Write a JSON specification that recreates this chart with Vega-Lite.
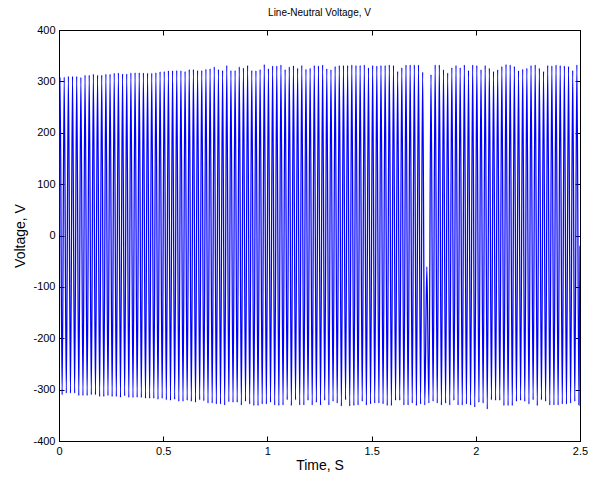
{
  "$schema": "https://vega.github.io/schema/vega-lite/v6.json",
  "width": 521,
  "height": 411,
  "autosize": "none",
  "padding": {"left": 59, "top": 30, "right": 11, "bottom": 36},
  "background": "white",
  "config": {
    "view": {"stroke": "#000", "strokeWidth": 1},
    "font": "Liberation Sans",
    "axis": {
      "grid": false,
      "domainColor": "#000",
      "tickColor": "#000",
      "labelColor": "#000",
      "titleColor": "#000",
      "labelFont": "Liberation Sans",
      "titleFont": "Liberation Sans",
      "labelFontSize": 11,
      "titleFontSize": 14,
      "titleFontWeight": "normal",
      "tickSize": -5,
      "labelFlush": false,
      "labelOverlap": false
    }
  },
  "title": {
    "text": "Line-Neutral Voltage, V",
    "font": "Liberation Sans",
    "fontSize": 10,
    "fontWeight": "normal",
    "color": "#000",
    "anchor": "middle",
    "offset": 6
  },
  "data": {
    "values": [
      {"t": 0, "v": 0},
      {"t": 0.005, "v": 308}, {"t": 0.015, "v": -310},
      {"t": 0.025, "v": 308.5}, {"t": 0.035, "v": -307},
      {"t": 0.045, "v": 310}, {"t": 0.055, "v": -307},
      {"t": 0.065, "v": 310}, {"t": 0.075, "v": -307},
      {"t": 0.085, "v": 310}, {"t": 0.095, "v": -311.5},
      {"t": 0.105, "v": 308}, {"t": 0.115, "v": -311.5},
      {"t": 0.125, "v": 312}, {"t": 0.135, "v": -311.5},
      {"t": 0.145, "v": 312}, {"t": 0.155, "v": -310},
      {"t": 0.165, "v": 314}, {"t": 0.175, "v": -310},
      {"t": 0.185, "v": 312}, {"t": 0.195, "v": -313.5},
      {"t": 0.205, "v": 312}, {"t": 0.215, "v": -313.5},
      {"t": 0.225, "v": 314}, {"t": 0.235, "v": -311.5},
      {"t": 0.245, "v": 314}, {"t": 0.255, "v": -313.5},
      {"t": 0.265, "v": 316}, {"t": 0.275, "v": -313.5},
      {"t": 0.285, "v": 316.5}, {"t": 0.295, "v": -315},
      {"t": 0.305, "v": 314.5}, {"t": 0.315, "v": -312},
      {"t": 0.325, "v": 314.5}, {"t": 0.335, "v": -315},
      {"t": 0.345, "v": 316.5}, {"t": 0.355, "v": -315.5},
      {"t": 0.365, "v": 317}, {"t": 0.375, "v": -315},
      {"t": 0.385, "v": 317}, {"t": 0.395, "v": -315.5},
      {"t": 0.405, "v": 316.5}, {"t": 0.415, "v": -317},
      {"t": 0.425, "v": 316}, {"t": 0.435, "v": -317},
      {"t": 0.445, "v": 316}, {"t": 0.455, "v": -317},
      {"t": 0.465, "v": 317}, {"t": 0.475, "v": -319},
      {"t": 0.485, "v": 319}, {"t": 0.495, "v": -317},
      {"t": 0.505, "v": 319.5}, {"t": 0.515, "v": -320},
      {"t": 0.525, "v": 321}, {"t": 0.535, "v": -321},
      {"t": 0.545, "v": 321}, {"t": 0.555, "v": -319},
      {"t": 0.565, "v": 321.5}, {"t": 0.575, "v": -323},
      {"t": 0.585, "v": 321}, {"t": 0.595, "v": -323},
      {"t": 0.605, "v": 319.5}, {"t": 0.615, "v": -321},
      {"t": 0.625, "v": 323.5}, {"t": 0.635, "v": -323},
      {"t": 0.645, "v": 323.5}, {"t": 0.655, "v": -325},
      {"t": 0.665, "v": 321.5}, {"t": 0.675, "v": -320},
      {"t": 0.685, "v": 321.5}, {"t": 0.695, "v": -322},
      {"t": 0.705, "v": 324}, {"t": 0.715, "v": -326.5},
      {"t": 0.725, "v": 325}, {"t": 0.735, "v": -326.5},
      {"t": 0.745, "v": 328.5}, {"t": 0.755, "v": -328},
      {"t": 0.765, "v": 323.5}, {"t": 0.775, "v": -328},
      {"t": 0.785, "v": 321.5}, {"t": 0.795, "v": -330},
      {"t": 0.805, "v": 331}, {"t": 0.815, "v": -324},
      {"t": 0.825, "v": 321.5}, {"t": 0.835, "v": -325},
      {"t": 0.845, "v": 321.5}, {"t": 0.855, "v": -325},
      {"t": 0.865, "v": 328.5}, {"t": 0.875, "v": -330},
      {"t": 0.885, "v": 326.5}, {"t": 0.895, "v": -323},
      {"t": 0.905, "v": 331}, {"t": 0.915, "v": -328},
      {"t": 0.925, "v": 321.5}, {"t": 0.935, "v": -331},
      {"t": 0.945, "v": 321}, {"t": 0.955, "v": -331},
      {"t": 0.965, "v": 323.5}, {"t": 0.975, "v": -328},
      {"t": 0.985, "v": 333}, {"t": 0.995, "v": -328},
      {"t": 1.005, "v": 325}, {"t": 1.015, "v": -325},
      {"t": 1.025, "v": 330}, {"t": 1.035, "v": -330},
      {"t": 1.045, "v": 330}, {"t": 1.055, "v": -331},
      {"t": 1.065, "v": 332}, {"t": 1.075, "v": -330},
      {"t": 1.085, "v": 323.5}, {"t": 1.095, "v": -320},
      {"t": 1.105, "v": 328.5}, {"t": 1.115, "v": -331},
      {"t": 1.125, "v": 330.5}, {"t": 1.135, "v": -320},
      {"t": 1.145, "v": 326}, {"t": 1.155, "v": -330},
      {"t": 1.165, "v": 331}, {"t": 1.175, "v": -330},
      {"t": 1.185, "v": 324}, {"t": 1.195, "v": -321},
      {"t": 1.205, "v": 326}, {"t": 1.215, "v": -330},
      {"t": 1.225, "v": 331}, {"t": 1.235, "v": -325},
      {"t": 1.245, "v": 330}, {"t": 1.255, "v": -330},
      {"t": 1.265, "v": 332}, {"t": 1.275, "v": -321},
      {"t": 1.285, "v": 325}, {"t": 1.295, "v": -330},
      {"t": 1.305, "v": 323}, {"t": 1.315, "v": -323},
      {"t": 1.325, "v": 329}, {"t": 1.335, "v": -326.5},
      {"t": 1.345, "v": 331}, {"t": 1.355, "v": -332},
      {"t": 1.365, "v": 331}, {"t": 1.375, "v": -320},
      {"t": 1.385, "v": 331}, {"t": 1.395, "v": -332},
      {"t": 1.405, "v": 332}, {"t": 1.415, "v": -331},
      {"t": 1.425, "v": 331}, {"t": 1.435, "v": -330},
      {"t": 1.445, "v": 331}, {"t": 1.455, "v": -323},
      {"t": 1.465, "v": 332}, {"t": 1.475, "v": -330},
      {"t": 1.485, "v": 327}, {"t": 1.495, "v": -328},
      {"t": 1.505, "v": 331}, {"t": 1.515, "v": -326.5},
      {"t": 1.525, "v": 330}, {"t": 1.535, "v": -326.5},
      {"t": 1.545, "v": 331}, {"t": 1.555, "v": -328},
      {"t": 1.565, "v": 331}, {"t": 1.575, "v": -331},
      {"t": 1.585, "v": 332}, {"t": 1.595, "v": -331},
      {"t": 1.605, "v": 331}, {"t": 1.615, "v": -321},
      {"t": 1.625, "v": 319.5}, {"t": 1.635, "v": -321},
      {"t": 1.645, "v": 327}, {"t": 1.655, "v": -330},
      {"t": 1.665, "v": 332}, {"t": 1.675, "v": -330},
      {"t": 1.685, "v": 332}, {"t": 1.695, "v": -326.5},
      {"t": 1.705, "v": 332}, {"t": 1.715, "v": -331},
      {"t": 1.725, "v": 332}, {"t": 1.735, "v": -328},
      {"t": 1.745, "v": 318}, {"t": 1.755, "v": -330},
      {"t": 1.765, "v": -61}, {"t": 1.775, "v": -326.5},
      {"t": 1.785, "v": 313}, {"t": 1.795, "v": -323},
      {"t": 1.805, "v": 332}, {"t": 1.815, "v": -326.5},
      {"t": 1.825, "v": 332}, {"t": 1.835, "v": -330},
      {"t": 1.845, "v": 323}, {"t": 1.855, "v": -326.5},
      {"t": 1.865, "v": 316.5}, {"t": 1.875, "v": -330},
      {"t": 1.885, "v": 327}, {"t": 1.895, "v": -321},
      {"t": 1.905, "v": 331}, {"t": 1.915, "v": -330},
      {"t": 1.925, "v": 327}, {"t": 1.935, "v": -330},
      {"t": 1.945, "v": 332}, {"t": 1.955, "v": -328},
      {"t": 1.965, "v": 321.5}, {"t": 1.975, "v": -330},
      {"t": 1.985, "v": 332}, {"t": 1.995, "v": -334},
      {"t": 2.005, "v": 331}, {"t": 2.015, "v": -325},
      {"t": 2.025, "v": 323}, {"t": 2.035, "v": -326.5},
      {"t": 2.045, "v": 331}, {"t": 2.055, "v": -338},
      {"t": 2.065, "v": 326}, {"t": 2.075, "v": -320},
      {"t": 2.085, "v": 319.5}, {"t": 2.095, "v": -321},
      {"t": 2.105, "v": 323}, {"t": 2.115, "v": -321},
      {"t": 2.125, "v": 329}, {"t": 2.135, "v": -331},
      {"t": 2.145, "v": 333}, {"t": 2.155, "v": -331},
      {"t": 2.165, "v": 332}, {"t": 2.175, "v": -331},
      {"t": 2.185, "v": 329}, {"t": 2.195, "v": -323},
      {"t": 2.205, "v": 321}, {"t": 2.215, "v": -321},
      {"t": 2.225, "v": 324}, {"t": 2.235, "v": -323},
      {"t": 2.245, "v": 326}, {"t": 2.255, "v": -328},
      {"t": 2.265, "v": 331}, {"t": 2.275, "v": -320},
      {"t": 2.285, "v": 332}, {"t": 2.295, "v": -331},
      {"t": 2.305, "v": 326}, {"t": 2.315, "v": -320},
      {"t": 2.325, "v": 319.5}, {"t": 2.335, "v": -323},
      {"t": 2.345, "v": 331}, {"t": 2.355, "v": -330},
      {"t": 2.365, "v": 330}, {"t": 2.375, "v": -330},
      {"t": 2.385, "v": 332}, {"t": 2.395, "v": -330},
      {"t": 2.405, "v": 331}, {"t": 2.415, "v": -328},
      {"t": 2.425, "v": 330}, {"t": 2.435, "v": -328},
      {"t": 2.445, "v": 329}, {"t": 2.455, "v": -326.5},
      {"t": 2.465, "v": 321.5}, {"t": 2.475, "v": -323},
      {"t": 2.485, "v": 332}, {"t": 2.495, "v": -330},
      {"t": 2.5, "v": -20}
    ]
  },
  "layer": [
    {
      "mark": {"type": "line", "color": "#0000ff", "strokeWidth": 1.25, "interpolate": "monotone", "clip": true},
      "encoding": {
        "x": {
          "field": "t", "type": "quantitative",
          "scale": {"domain": [0, 2.5], "nice": false, "zero": false},
          "axis": {"orient": "bottom", "values": [0, 0.5, 1, 1.5, 2, 2.5], "format": "~g", "title": "Time, S", "labelPadding": 9, "titlePadding": 2}
        },
        "y": {
          "field": "v", "type": "quantitative",
          "scale": {"domain": [-400, 400], "nice": false, "zero": false},
          "axis": {"orient": "left", "values": [-400, -300, -200, -100, 0, 100, 200, 300, 400], "labelExpr": "'' + datum.value", "title": "Voltage, V", "labelPadding": 9, "titlePadding": 5}
        }
      }
    },
    {
      "mark": {"type": "point", "opacity": 0},
      "encoding": {
        "x": {
          "field": "t", "type": "quantitative",
          "scale": {"domain": [0, 2.5], "nice": false, "zero": false},
          "axis": {"orient": "top", "values": [0, 0.5, 1, 1.5, 2, 2.5], "labels": false, "title": null}
        },
        "y": {
          "field": "v", "type": "quantitative",
          "scale": {"domain": [-400, 400], "nice": false, "zero": false},
          "axis": {"orient": "right", "values": [-400, -300, -200, -100, 0, 100, 200, 300, 400], "labels": false, "title": null}
        }
      }
    }
  ],
  "resolve": {"axis": {"x": "independent", "y": "independent"}}
}
